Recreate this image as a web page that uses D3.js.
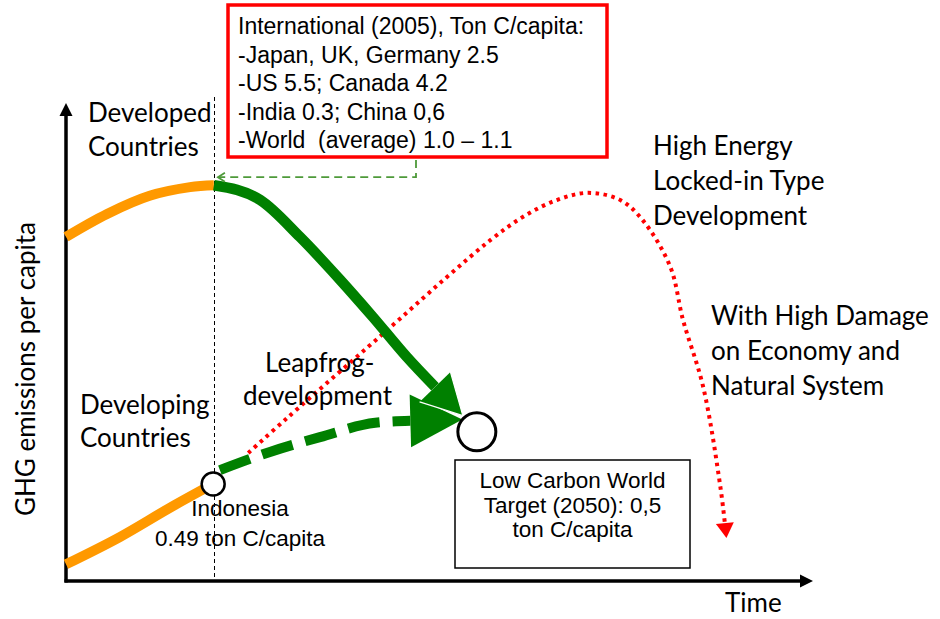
<!DOCTYPE html>
<html>
<head>
<meta charset="utf-8">
<script src="https://cdn.jsdelivr.net/npm/d3@7"></script>
<style>
  body { margin: 0; background: #fff; }
  .cal { font-family: Lato, 'Open Sans', sans-serif; fill: #000; }
  .ari { font-family: 'Liberation Sans', Arial, sans-serif; fill: #000; }
</style>
</head>
<body>
<div id="chart"></div>
<script>
// curves in chart units: [time, emissions per capita], both 0..100
const developedPast = [[0, 72], [5.5, 76.8], [11.2, 80.6], [16.6, 82.4], [19.8, 82.8]]
const developedReduction = [[19.8, 82.8], [26.0, 79.7], [31.3, 72.0], [36.7, 63.0], [41.1, 55.2], [45.6, 46.9], [49.4, 40.6]]
const developingPast = [[0, 3.5], [7.2, 9.2], [13.9, 15.3], [19.7, 20.3]]
const leapfrogPath = [[20.6, 23.2], [27.3, 27.0], [34.0, 30.1], [41.4, 33.1], [46.1, 33.5]]
const lockedInPath = [[24.4, 26.8], [29.6, 34.1], [43.8, 53.6], [51.0, 63.6], [56.8, 71.3], [61.2, 76.2], [65.7, 79.7],
                      [69.9, 81.2], [74.2, 79.7], [77.2, 75.5], [80.9, 65.7], [82.6, 54.6], [85.3, 40.6], [87.6, 19.7], [88.2, 12.1]]
const indonesiaPoint = [19.7, 20.3]
const targetPoint = [55.0, 31.2]
const splitTime = 19.8

const internationalLines = ['International (2005), Ton C/capita:', '-Japan, UK, Germany 2.5', '-US 5.5; Canada 4.2',
                            '-India 0.3; China 0,6', '-World  (average) 1.0 \u2013 1.1']
const targetLines = ['Low Carbon World', 'Target (2050): 0,5', 'ton C/capita']
const indonesiaLines = ['Indonesia', '0.49 ton C/capita']
const developedLabel = ['Developed', 'Countries']
const developingLabel = ['Developing', 'Countries']
const lockedInLabel = ['High Energy', 'Locked-in Type', 'Development']
const damageLabel = ['With High Damage', 'on Economy and', 'Natural System']

const width = 940, height = 619
const orange = '#ff9900', green = '#008000', red = '#ff0000'

const x = d3.scaleLinear().domain([0, 100]).range([66, 813])
const y = d3.scaleLinear().domain([0, 100]).range([581, 103])

const svg = d3.select('#chart').append('svg')
  .attr('width', width).attr('height', height)

const defs = svg.append('defs')
function marker(id, d, box, fill, stroke, sw){
  defs.append('marker')
    .attr('id', id)
    .attr('markerUnits', 'userSpaceOnUse')
    .attr('viewBox', box.join(' '))
    .attr('markerWidth', box[2]).attr('markerHeight', box[3])
    .attr('refX', 0).attr('refY', 0)
    .attr('orient', 'auto')
    .append('path').attr('d', d)
    .attr('fill', fill).attr('stroke', stroke).attr('stroke-width', sw || 0)
}
marker('axisHead', 'M0,-6.5L13,0L0,6.5Z', [-1, -8, 16, 16], '#000', 'none')
marker('solidHead', 'M0,-21.5L40,0L0,21.5', [-2, -24, 46, 48], green, '#fff', 1.2)
marker('dashHead', 'M0,-26.5L52,0L0,26.5Z', [-1, -28, 56, 56], green, 'none')
marker('redHead', 'M0,-9L15,0L0,9Z', [-1, -10, 18, 20], red, 'none')
marker('smallHead', 'M-7,-4.5L0,0L-7,4.5', [-9, -6, 11, 12], 'none', '#4e9a3a', 1.8)

const smooth = d3.line().x(d => x(d[0])).y(d => y(d[1])).curve(d3.curveMonotoneX)
const line = d3.line().x(d => x(d[0])).y(d => y(d[1])).curve(d3.curveCatmullRom.alpha(0.5))

// axes as arrows
svg.append('line')
  .attr('x1', x(0)).attr('y1', y(0) + 1.5).attr('x2', x(0)).attr('y2', y(100) + 13)
  .attr('stroke', '#000').attr('stroke-width', 3.5).attr('marker-end', 'url(#axisHead)')
svg.append('line')
  .attr('x1', x(0) - 1.5).attr('y1', y(0)).attr('x2', x(100) - 13).attr('y2', y(0))
  .attr('stroke', '#000').attr('stroke-width', 3.5).attr('marker-end', 'url(#axisHead)')

// split between past and future
const splitX = Math.round(x(splitTime)) + 0.5
svg.append('line')
  .attr('x1', splitX).attr('x2', splitX)
  .attr('y1', 97).attr('y2', y(0))
  .attr('stroke', '#000').attr('stroke-width', 1).attr('stroke-dasharray', '4,3')

// curves
svg.append('path').attr('d', line(developedPast))
  .attr('fill', 'none').attr('stroke', orange).attr('stroke-width', 10)
svg.append('path').attr('d', smooth(developingPast))
  .attr('fill', 'none').attr('stroke', orange).attr('stroke-width', 10)
svg.append('path').attr('d', line(lockedInPath))
  .attr('fill', 'none').attr('stroke', red).attr('stroke-width', 4)
  .attr('stroke-dasharray', '3.5,4.5').attr('marker-end', 'url(#redHead)')
svg.append('path').attr('d', smooth(leapfrogPath))
  .attr('fill', 'none').attr('stroke', green).attr('stroke-width', 10)
  .attr('stroke-dasharray', '32,13').attr('marker-end', 'url(#dashHead)')
svg.append('path').attr('d', smooth(developedReduction))
  .attr('fill', 'none').attr('stroke', green).attr('stroke-width', 10.5)
  .attr('marker-end', 'url(#solidHead)')

// milestone circles
svg.append('circle').attr('cx', x(indonesiaPoint[0])).attr('cy', y(indonesiaPoint[1])).attr('r', 11.5)
  .attr('fill', '#fff').attr('stroke', '#000').attr('stroke-width', 2.5)
svg.append('circle').attr('cx', x(targetPoint[0])).attr('cy', y(targetPoint[1])).attr('r', 19)
  .attr('fill', '#fff').attr('stroke', '#000').attr('stroke-width', 3)

// international box and connector
svg.append('rect').attr('x', 228).attr('y', 5).attr('width', 379).attr('height', 152)
  .attr('fill', '#fff').attr('stroke', red).attr('stroke-width', 3.5)
svg.append('text').attr('class', 'ari').attr('font-size', 23).attr('xml:space', 'preserve')
  .selectAll('tspan').data(internationalLines).enter().append('tspan')
  .attr('x', 238).attr('y', (d, i) => 34 + i * 28.5).text(d => d)
const peakY = y(developedPast[developedPast.length - 1][1]) - 8
svg.append('path')
  .attr('d', 'M416,160V' + peakY + 'H' + (x(splitTime) + 4))
  .attr('fill', 'none').attr('stroke', '#4e9a3a').attr('stroke-width', 1.8)
  .attr('stroke-dasharray', '8,5').attr('marker-end', 'url(#smallHead)')

// target box
svg.append('rect').attr('x', 455).attr('y', 460).attr('width', 235).attr('height', 108)
  .attr('fill', '#fff').attr('stroke', '#000').attr('stroke-width', 1.5)
svg.append('text').attr('class', 'ari').attr('font-size', 22.5).attr('text-anchor', 'middle')
  .selectAll('tspan').data(targetLines).enter().append('tspan')
  .attr('x', 572.5).attr('y', (d, i) => 488 + i * 24.5).text(d => d)

svg.append('text').attr('class', 'ari').attr('font-size', 22.5).attr('text-anchor', 'middle')
  .selectAll('tspan').data(indonesiaLines).enter().append('tspan')
  .attr('x', 240).attr('y', (d, i) => 516 + i * 30).text(d => d)

// annotation labels
function label(lines, lx, ly, step){
  svg.append('text').attr('class', 'cal').attr('font-size', 26)
    .selectAll('tspan').data(lines).enter().append('tspan')
    .attr('x', lx).attr('y', (d, i) => ly + i * step).text(d => d)
}
label(developedLabel, 88, 122, 34)
label(developingLabel, 80, 414, 33)
label(['Leapfrog-'], 265, 372, 0)
label(['development'], 243, 405, 0)
label(lockedInLabel, 653, 155, 35)
label(damageLabel, 711, 325, 35)

svg.append('text').attr('class', 'cal').attr('font-size', 26)
  .attr('x', 725).attr('y', 612).text('Time')
svg.append('text').attr('class', 'cal').attr('font-size', 26).attr('text-anchor', 'middle')
  .attr('transform', 'translate(35,369) rotate(-90)').text('GHG emissions per capita')
</script>
</body>
</html>
